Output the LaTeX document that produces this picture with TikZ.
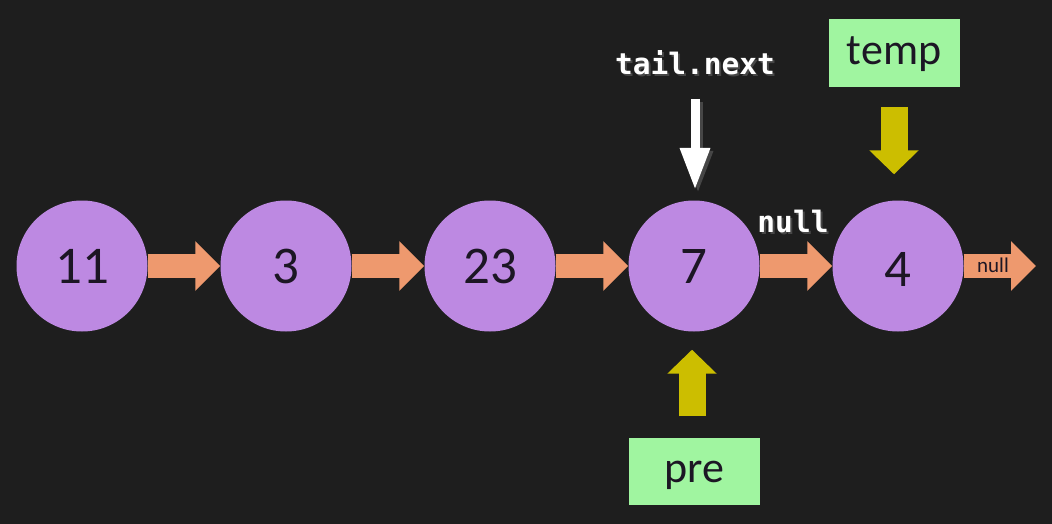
\documentclass[tikz,border=0pt]{standalone}
\usepackage{fontspec}
\setmainfont{Carlito}
\newfontfamily\codefont{DejaVu Sans Mono}
\usetikzlibrary{arrows.meta}
\definecolor{bg}{RGB}{30,30,30}
\definecolor{nodepurple}{RGB}{189,137,226}
\definecolor{linkorange}{RGB}{238,153,110}
\definecolor{boxgreen}{RGB}{160,245,160}
\definecolor{ptryellow}{RGB}{204,190,0}
\definecolor{darktext}{RGB}{28,22,36}
\definecolor{shadowgray}{RGB}{70,70,70}
\tikzset{
  listnode/.style={circle, fill=nodepurple, minimum size=131pt, inner sep=0pt,
    text=darktext, font=\fontsize{53}{53}\selectfont},
  link/.style={draw=linkorange, line width=24pt,
    -{Triangle[width=48pt,length=25pt,fill=linkorange]}},
  varbox/.style={rectangle, fill=boxgreen, minimum width=131pt, minimum height=68pt,
    inner sep=0pt, text=darktext, font=\fontsize{44}{44}\selectfont},
  ptr/.style={draw=ptryellow, line width=27pt,
    -{Triangle[width=48pt,length=24pt,fill=ptryellow]}},
  warrow/.style={draw=white, line width=9pt,
    -{Triangle[width=28pt,length=42pt,fill=white]}},
  wshadow/.style={draw=shadowgray, line width=9pt,
    -{Triangle[width=28pt,length=42pt,fill=shadowgray]}},
  code/.style={font=\codefont\bfseries\fontsize{29.5}{29.5}\selectfont, text=white, inner sep=0pt, anchor=base},
  codeshadow/.style={font=\codefont\bfseries\fontsize{29.5}{29.5}\selectfont, text=shadowgray, inner sep=0pt, anchor=base},
}
\begin{document}
\begin{tikzpicture}[x=1pt,y=-1pt]
\fill[bg] (0,0) rectangle (1052,524);
\useasboundingbox (0,0) rectangle (1052,524);

% list nodes
\node[listnode] (n1) at (82,266) {11};
\node[listnode] (n2) at (286,266) {3};
\node[listnode] (n3) at (490,266) {23};
\node[listnode] (n4) at (694,266) {7};
\node[listnode] (n5) at (898,266) {\raisebox{-20pt}[0pt][0pt]{4}};
\coordinate (end) at (1036,266);

% links
\draw[link] (n1) -- (n2);
\draw[link] (n2) -- (n3);
\draw[link] (n3) -- (n4);
\draw[link] (n4) -- (n5);
\draw[link] (n5) -- (end);
\node[text=darktext, font=\fontsize{21}{21}\selectfont, inner sep=0pt] (nulltail) at (993,265) {null};

% tail.next label and arrow
\node[codeshadow] at (697,77) {tail.next};
\node[code] (tn) at (695,75) {tail.next};
\coordinate (tstart) at (695,99);
\coordinate (ttip) at (695,190);
\draw[wshadow] ([shift={(3,3)}]tstart) -- ([shift={(3,3)}]ttip);
\draw[warrow] (tstart) -- (ttip);

% null label above link
\node[codeshadow] at (795,234) {null};
\node[code] (nl) at (793,232) {null};

% temp pointer
\node[varbox] (temp) at (894,53) {\raisebox{-12pt}[0pt][0pt]{temp}};
\draw[ptr] ([yshift=-20]temp.south) -- ([yshift=26]temp.south |- n5.north);

% pre pointer
\node[varbox, minimum height=67pt] (pre) at (694,471) {\raisebox{-11pt}[0pt][0pt]{pre}};
\draw[ptr] ([shift={(-2,-21)}]pre.north) -- ([shift={(-2,18)}]n4.south);
\end{tikzpicture}
\end{document}
